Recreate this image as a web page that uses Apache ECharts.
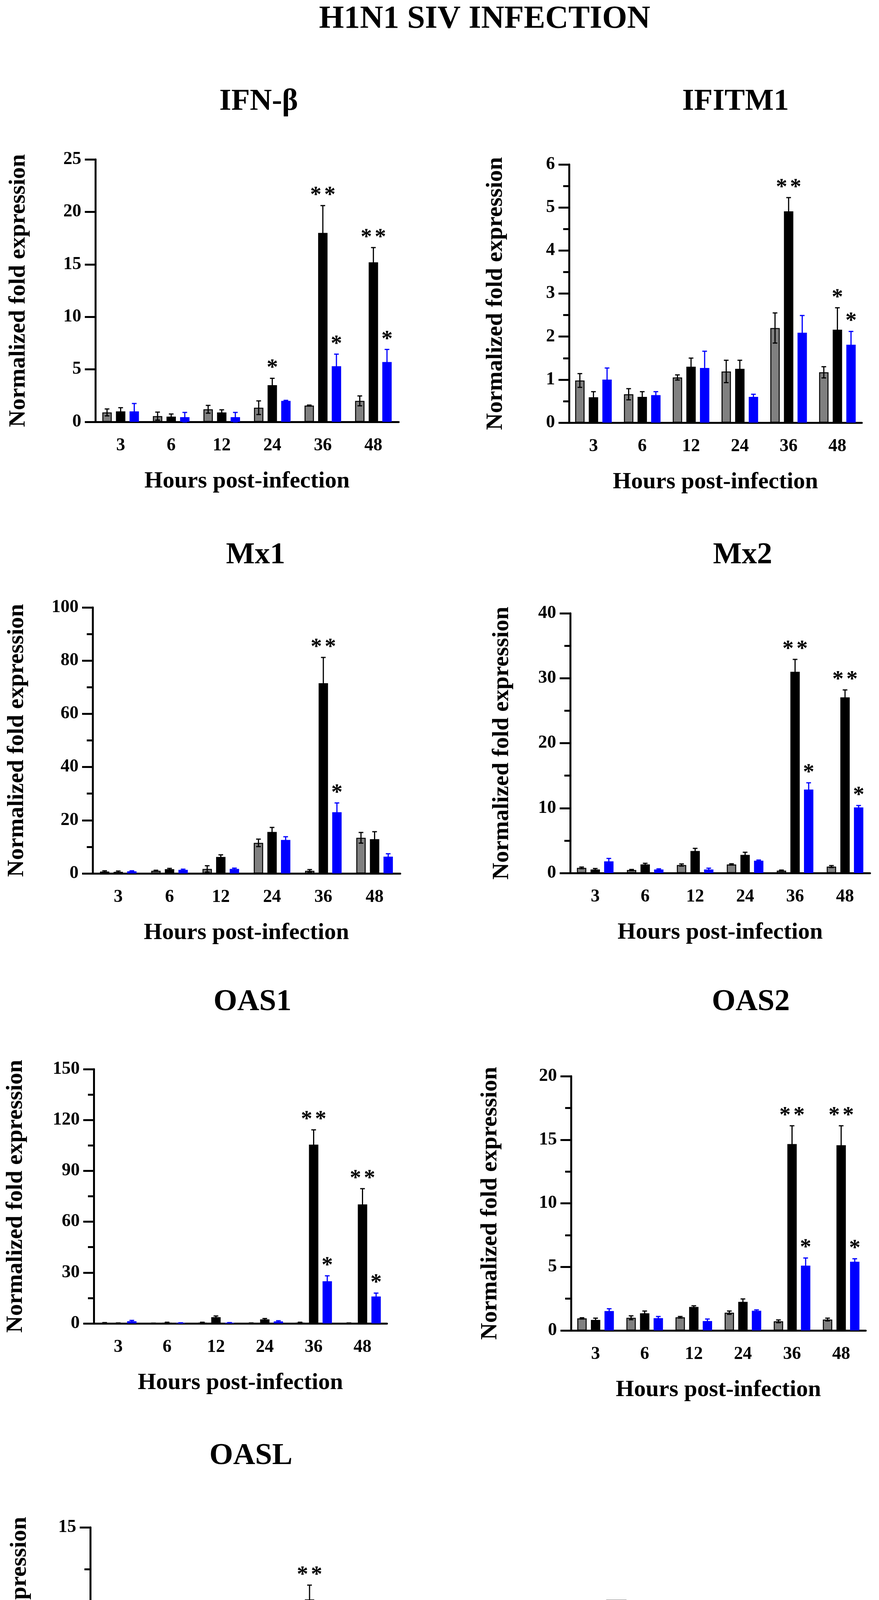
<!DOCTYPE html>
<html>
<head>
<meta charset="utf-8">
<title>H1N1 SIV INFECTION</title>
<script src="https://cdn.jsdelivr.net/npm/echarts@6/dist/echarts.min.js"></script>
<style>
html, body { margin: 0; padding: 0; background: #fff; }
#main { width: 2249px; height: 4760px; }
</style>
</head>
<body>
<div id="main"></div>
<script>
// hours post-infection
var hours = ['3', '6', '12', '24', '36', '48'];
var groups = ['CONTROL', 'MOI 0.01', 'MOI 0.001'];

// rows: control, MOI 0.01, MOI 0.001
var ifnbMean = [[0.9, 0.55, 1.2, 1.35, 1.55, 2.0], [1.0, 0.5, 0.9, 3.5, 18.0, 15.2], [1.0, 0.45, 0.45, 2.0, 5.3, 5.7]];
var ifnbSd   = [[0.33, 0.38, 0.37, 0.65, 0.05, 0.47], [0.35, 0.25, 0.25, 0.65, 2.6, 1.4], [0.75, 0.45, 0.45, 0.05, 1.15, 1.2]];
var ifnbSig  = [['', '', '', '', '', ''], ['', '', '', '*', '**', '**'], ['', '', '', '', '*', '*']];

var ifitmMean = [[0.98, 0.66, 1.05, 1.19, 2.2, 1.17], [0.59, 0.6, 1.3, 1.25, 4.91, 2.16], [1.0, 0.64, 1.27, 0.6, 2.09, 1.81]];
var ifitmSd   = [[0.16, 0.13, 0.06, 0.26, 0.35, 0.13], [0.13, 0.12, 0.2, 0.2, 0.32, 0.51], [0.27, 0.08, 0.39, 0.06, 0.4, 0.31]];
var ifitmSig  = [['', '', '', '', '', ''], ['', '', '', '', '**', '*'], ['', '', '', '', '', '*']];

var mx1Mean = [[0.7, 1.0, 1.7, 11.5, 1.0, 13.4], [0.6, 1.6, 6.2, 15.6, 71.5, 12.9], [0.8, 1.35, 1.7, 12.6, 23.0, 6.3]];
var mx1Sd   = [[0.3, 0.2, 1.2, 1.4, 0.45, 2.0], [0.3, 0.3, 0.8, 1.7, 9.7, 2.8], [0.2, 0.25, 0.3, 1.2, 3.5, 1.1]];
var mx1Sig  = [['', '', '', '', '', ''], ['', '', '', '', '**', ''], ['', '', '', '', '*', '']];

var mx2Mean = [[0.8, 0.46, 1.24, 1.33, 0.37, 1.0], [0.55, 1.33, 3.4, 2.8, 31.0, 27.05], [1.8, 0.55, 0.55, 1.9, 12.85, 10.1]];
var mx2Sd   = [[0.12, 0.09, 0.16, 0.1, 0.09, 0.15], [0.15, 0.17, 0.4, 0.4, 1.9, 1.15], [0.45, 0.1, 0.2, 0.1, 1.05, 0.3]];
var mx2Sig  = [['', '', '', '', '', ''], ['', '', '', '', '**', '**'], ['', '', '', '', '*', '*']];

var oas1Mean = [[0.3, 0.1, 0.5, 0.2, 0.5, 0.2], [0.2, 0.5, 3.7, 2.4, 105.5, 70.2], [1.3, 0.3, 0.4, 1.2, 24.9, 15.9]];
var oas1Sd   = [[0.2, 0.1, 0.2, 0.1, 0.2, 0.1], [0.1, 0.2, 0.7, 0.5, 8.7, 9.3], [0.5, 0.1, 0.1, 0.4, 3.2, 2.0]];
var oas1Sig  = [['', '', '', '', '', ''], ['', '', '', '', '**', '**'], ['', '', '', '', '*', '*']];

var oas2Mean = [[0.95, 1.0, 1.04, 1.4, 0.72, 0.86], [0.83, 1.35, 1.85, 2.25, 14.66, 14.57], [1.53, 0.97, 0.74, 1.55, 5.1, 5.41]];
var oas2Sd   = [[0.05, 0.15, 0.06, 0.13, 0.11, 0.11], [0.14, 0.18, 0.09, 0.23, 1.44, 1.53], [0.18, 0.13, 0.16, 0.07, 0.6, 0.23]];
var oas2Sig  = [['', '', '', '', '', ''], ['', '', '', '', '**', '**'], ['', '', '', '', '*', '*']];

var oaslMean = [[0.98, 1.08, 1.04, 1.99, 0.55, 1.3], [0.85, 1.35, 2.0, 2.0, 10.71, 6.52], [1.17, 0.95, 1.01, 1.63, 4.03, 2.93]];
var oaslSd   = [[0.11, 0.16, 0.13, 0.24, 0.1, 0.17], [0.13, 0.15, 0.2, 0.25, 0.85, 0.54], [0.3, 0.19, 0.13, 0.21, 0.32, 0.33]];
var oaslSig  = [['', '', '', '', '', ''], ['', '', '', '', '**', '**'], ['', '', '', '', '*', '*']];

var FONT = '"Liberation Serif", "Times New Roman", serif';
var COLORS = ['#808080', '#000000', '#0000ff'];
var BAR_W = 24, BAR_GAP = 0.45, CAP = 6;
var PITCH = BAR_W * (1 + BAR_GAP);

// layout per panel: grid box [left, top, width, height], title centre, y-name distance
var panels = [
  { name: 'IFN-β', mean: ifnbMean, sd: ifnbSd, sig: ifnbSig, max: 25, step: 5, minor: false, box: [244, 408, 776, 672], title: [662, 261], yName: 197 },
  { name: 'IFITM1', mean: ifitmMean, sd: ifitmSd, sig: ifitmSig, max: 6, step: 1, minor: true, box: [1456, 421, 749, 661], title: [1882, 261], yName: 188 },
  { name: 'Mx1', mean: mx1Mean, sd: mx1Sd, sig: mx1Sig, max: 100, step: 20, minor: true, box: [237, 1555, 787, 681], title: [654, 1422], yName: 194 },
  { name: 'Mx2', mean: mx2Mean, sd: mx2Sd, sig: mx2Sig, max: 40, step: 10, minor: true, box: [1459, 1570, 767, 665], title: [1900, 1422], yName: 175 },
  { name: 'OAS1', mean: oas1Mean, sd: oas1Sd, sig: oas1Sig, max: 150, step: 30, minor: true, box: [240, 2737, 750, 651], title: [646, 2566], yName: 200 },
  { name: 'OAS2', mean: oas2Mean, sd: oas2Sd, sig: oas2Sig, max: 20, step: 5, minor: true, box: [1461, 2755, 754, 651], title: [1921, 2566], yName: 207 },
  { name: 'OASL', mean: oaslMean, sd: oaslSd, sig: oaslSig, max: 15, step: 5, minor: true, box: [231, 3910, 748, 645], title: [642, 3728], yName: 181 }
];

function errorBars(g, marks) {
  return function (params, api) {
    var i = api.value(0), m = api.value(1), s = api.value(2);
    var x = api.coord([i, m])[0] + (g - 1) * PITCH;
    var yTop = api.coord([i, m + s])[1];
    var yLow = api.coord([i, Math.max(0, m - s)])[1];
    var st = { stroke: g === 2 ? COLORS[2] : '#000', lineWidth: 3 };
    var kids = [
      { type: 'line', shape: { x1: x, y1: yLow, x2: x, y2: yTop }, style: st },
      { type: 'line', shape: { x1: x - CAP, y1: yTop, x2: x + CAP, y2: yTop }, style: st },
      { type: 'line', shape: { x1: x - CAP, y1: yLow, x2: x + CAP, y2: yLow }, style: st }
    ];
    var mark = marks[params.dataIndex];
    var xs = mark === '**' ? [x - 18, x + 18] : (mark === '*' ? [x] : []);
    xs.forEach(function (sx) {
      kids.push({
        type: 'text', x: sx, y: yTop - 25,
        style: { text: '*', fill: '#000', font: 'bold 58px ' + FONT, align: 'center', verticalAlign: 'middle' }
      });
    });
    return { type: 'group', children: kids };
  };
}

var grid = [], xAxis = [], yAxis = [], series = [], graphic = [];

graphic.push({
  type: 'text', x: 1240, y: 50,
  style: { text: 'H1N1 SIV INFECTION', fill: '#000', font: 'bold 82px ' + FONT, align: 'center', verticalAlign: 'middle' }
});

panels.forEach(function (p, k) {
  grid.push({ left: p.box[0], top: p.box[1], width: p.box[2], height: p.box[3] });
  graphic.push({
    type: 'text', x: p.title[0], y: p.title[1],
    style: { text: p.name, fill: '#000', font: 'bold 78px ' + FONT, align: 'center', verticalAlign: 'middle' }
  });
  xAxis.push({
    type: 'category', gridIndex: k, data: hours,
    name: 'Hours post-infection', nameLocation: 'middle', nameGap: 122,
    nameTextStyle: { fontFamily: FONT, fontWeight: 'bold', fontSize: 60, lineHeight: 60, color: '#000' },
    axisLine: { lineStyle: { color: '#000', width: 5 } },
    axisTick: { alignWithLabel: true, length: 30, lineStyle: { color: '#000', width: 5 } },
    axisLabel: { fontFamily: FONT, fontWeight: 'bold', fontSize: 46, color: '#000', margin: 38 },
    splitLine: { show: false }
  });
  yAxis.push({
    type: 'value', gridIndex: k, min: 0, max: p.max, interval: p.step,
    name: 'Normalized fold expression', nameLocation: 'middle', nameGap: p.yName - 30,
    nameTextStyle: { fontFamily: FONT, fontWeight: 'bold', fontSize: 60, lineHeight: 60, color: '#000' },
    axisLine: { show: true, lineStyle: { color: '#000', width: 5 } },
    axisTick: { show: true, length: 27, lineStyle: { color: '#000', width: 5 } },
    minorTick: { show: p.minor, splitNumber: 2, length: 15, lineStyle: { color: '#000', width: 5 } },
    axisLabel: { fontFamily: FONT, fontWeight: 'bold', fontSize: 46, color: '#000', margin: 36 },
    splitLine: { show: false }
  });
  groups.forEach(function (gName, g) {
    series.push({
      type: 'bar', name: gName, xAxisIndex: k, yAxisIndex: k,
      data: p.mean[g], barWidth: BAR_W, barGap: (BAR_GAP * 100) + '%',
      itemStyle: g === 0 ? { color: COLORS[0], borderColor: '#000', borderWidth: 2.5 } : { color: COLORS[g] },
      silent: true, animation: false
    });
  });
  groups.forEach(function (gName, g) {
    series.push({
      type: 'custom', name: 'sd-' + g, xAxisIndex: k, yAxisIndex: k, z: 5, clip: false,
      renderItem: errorBars(g, p.sig[g]),
      data: p.mean[g].map(function (v, i) { return [i, v, p.sd[g][i]]; }),
      silent: true, animation: false
    });
  });
});

var chart = echarts.init(document.getElementById('main'), null, { renderer: 'canvas' });
chart.setOption({
  backgroundColor: '#fff',
  animation: false,
  graphic: graphic,
  legend: {
    data: groups, orient: 'vertical', left: 1546, top: 4090,
    itemWidth: 52, itemHeight: 57, itemGap: 26, icon: 'rect', selectedMode: false,
    itemStyle: { borderWidth: 0 },
    textStyle: { fontFamily: FONT, fontWeight: 'bold', fontSize: 50, color: '#000', padding: [0, 0, 0, 26] }
  },
  grid: grid,
  xAxis: xAxis,
  yAxis: yAxis,
  series: series
});
</script>
</body>
</html>
